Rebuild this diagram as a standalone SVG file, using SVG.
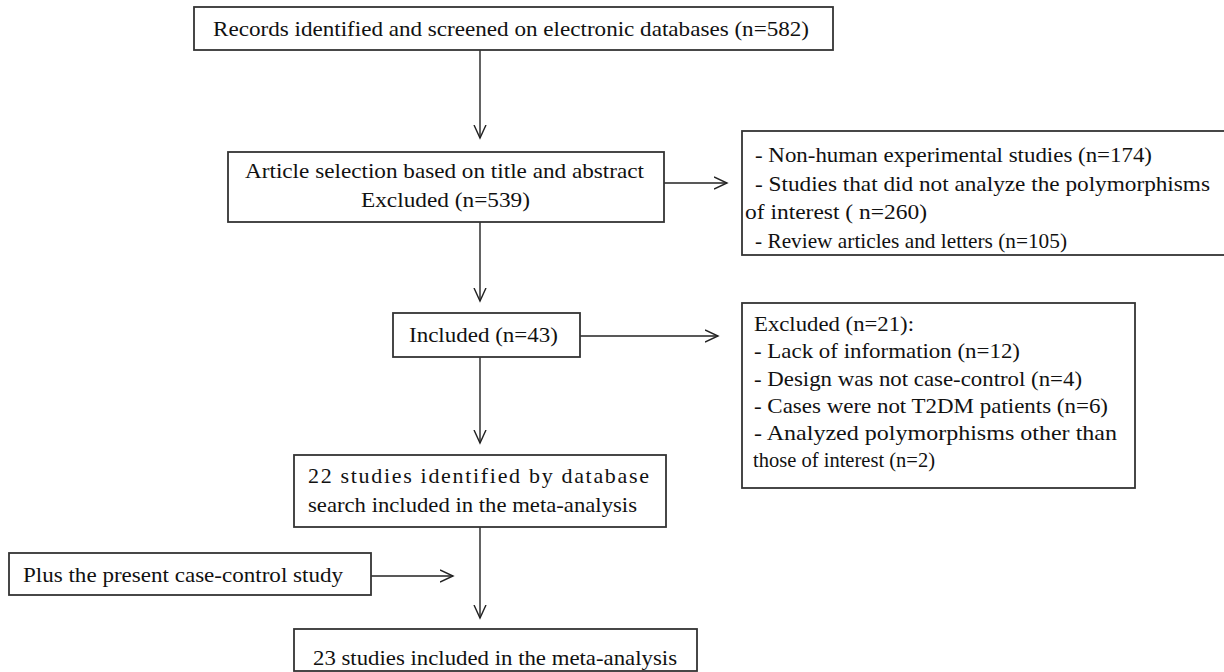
<svg xmlns="http://www.w3.org/2000/svg" width="1224" height="672" viewBox="0 0 1224 672">
<style>
.box{fill:#fff;stroke:#333;stroke-width:1.8}
.t{font-family:"Liberation Serif","Times New Roman",serif;font-size:22px;fill:#111}
.ln{stroke:#222;stroke-width:1.4;fill:none}
</style>
<defs>
<marker id="ah" markerWidth="16" markerHeight="14" refX="13" refY="7" orient="auto" markerUnits="userSpaceOnUse">
<polyline points="0,1 13,7 0,13" fill="none" stroke="#222" stroke-width="1.4"/>
</marker>
</defs>
<rect width="1224" height="672" fill="#fff"/>
<g id="connectors">
<line class="ln" x1="480" y1="50" x2="480" y2="138" marker-end="url(#ah)"/>
<line class="ln" x1="480" y1="222" x2="480" y2="301" marker-end="url(#ah)"/>
<line class="ln" x1="480" y1="357" x2="480" y2="443" marker-end="url(#ah)"/>
<line class="ln" x1="480" y1="527" x2="480" y2="618" marker-end="url(#ah)"/>
<line class="ln" x1="664" y1="183" x2="727" y2="183" marker-end="url(#ah)"/>
<line class="ln" x1="580" y1="336" x2="718" y2="336" marker-end="url(#ah)"/>
<line class="ln" x1="371" y1="576" x2="453" y2="576" marker-end="url(#ah)"/>
</g>
<g id="n1">
<rect class="box" x="194" y="7" width="639" height="43"/>
<text class="t" x="213" y="36" textLength="596" lengthAdjust="spacingAndGlyphs">Records identified and screened on electronic  databases (n=582)</text>
</g>
<g id="n2">
<rect class="box" x="228" y="152" width="436" height="70"/>
<text class="t" x="245" y="178" textLength="399" lengthAdjust="spacingAndGlyphs">Article selection based on title and abstract</text>
<text class="t" x="361" y="207" textLength="169" lengthAdjust="spacingAndGlyphs">Excluded (n=539)</text>
</g>
<g id="n3">
<rect class="box" x="742" y="131" width="484" height="124"/>
<text class="t" x="755" y="162" textLength="397" lengthAdjust="spacingAndGlyphs">- Non-human experimental  studies (n=174)</text>
<text class="t" x="755" y="191" textLength="455" lengthAdjust="spacingAndGlyphs">- Studies that did not analyze the polymorphisms</text>
<text class="t" x="745" y="219" textLength="182" lengthAdjust="spacingAndGlyphs">of interest ( n=260)</text>
<text class="t" x="755" y="248" textLength="312" lengthAdjust="spacingAndGlyphs">- Review articles  and letters (n=105)</text>
</g>
<g id="n4">
<rect class="box" x="393" y="313" width="187" height="44"/>
<text class="t" x="409" y="342" textLength="149" lengthAdjust="spacingAndGlyphs">Included (n=43)</text>
</g>
<g id="n5">
<rect class="box" x="742" y="303" width="393" height="185"/>
<text class="t" x="754" y="331" textLength="160" lengthAdjust="spacingAndGlyphs">Excluded (n=21):</text>
<text class="t" x="754" y="358" textLength="266" lengthAdjust="spacingAndGlyphs">- Lack of information  (n=12)</text>
<text class="t" x="754" y="386" textLength="328" lengthAdjust="spacingAndGlyphs">- Design  was not case-control  (n=4)</text>
<text class="t" x="754" y="413" textLength="354" lengthAdjust="spacingAndGlyphs">- Cases were not T2DM patients (n=6)</text>
<text class="t" x="754" y="440" textLength="363" lengthAdjust="spacingAndGlyphs">- Analyzed polymorphisms  other than</text>
<text class="t" x="753" y="467" textLength="182" lengthAdjust="spacingAndGlyphs">those of interest (n=2)</text>
</g>
<g id="n6">
<rect class="box" x="294" y="455" width="372" height="72"/>
<text class="t" x="308" y="483" textLength="341" lengthAdjust="spacing">22 studies identified by database</text>
<text class="t" x="308" y="512" textLength="329" lengthAdjust="spacingAndGlyphs">search included in the meta-analysis</text>
</g>
<g id="n7">
<rect class="box" x="9" y="553" width="362" height="42"/>
<text class="t" x="23" y="582" textLength="320" lengthAdjust="spacingAndGlyphs">Plus the present  case-control  study</text>
</g>
<g id="n8">
<rect class="box" x="294" y="629" width="403" height="42"/>
<text class="t" x="313" y="665" textLength="364" lengthAdjust="spacingAndGlyphs">23 studies included in the meta-analysis</text>
</g>
</svg>
